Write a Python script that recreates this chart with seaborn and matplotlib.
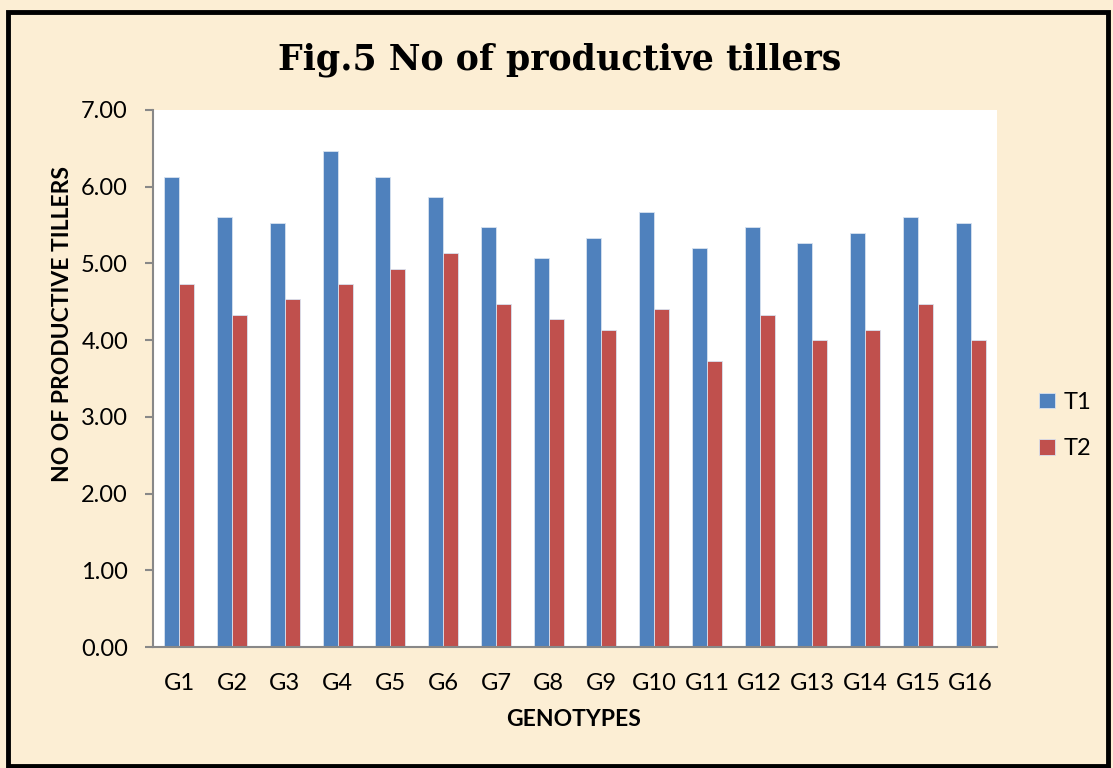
import matplotlib
matplotlib.use("Agg")
import matplotlib.pyplot as plt
import seaborn as sns
import pandas as pd
from matplotlib.patches import Rectangle

genotypes = ["G1", "G2", "G3", "G4", "G5", "G6", "G7", "G8",
             "G9", "G10", "G11", "G12", "G13", "G14", "G15", "G16"]
t1 = [6.13, 5.60, 5.53, 6.47, 6.13, 5.87, 5.47, 5.07,
      5.33, 5.67, 5.20, 5.47, 5.27, 5.40, 5.60, 5.53]
t2 = [4.73, 4.33, 4.53, 4.73, 4.93, 5.13, 4.47, 4.27,
      4.13, 4.40, 3.73, 4.33, 4.00, 4.13, 4.47, 4.00]
series = ["T1", "T2"]
yticks = [0, 1, 2, 3, 4, 5, 6, 7]

df = pd.DataFrame({
    "Genotype": genotypes * 2,
    "Treatment": ["T1"] * len(genotypes) + ["T2"] * len(genotypes),
    "Value": t1 + t2,
})

sns.set_theme(style="white")
plt.rcParams["font.family"] = ["Lato", "DejaVu Sans"]
plt.rcParams["text.color"] = "black"

W, H = 1113, 768
fig = plt.figure(figsize=(W / 100, H / 100), dpi=100)
bg = "#FCEED4"
fig.patch.set_facecolor(bg)

# outer frame
fig.patches.append(Rectangle((8 / W, 2 / H), (1100) / W, (754) / H,
                             transform=fig.transFigure, fill=False,
                             edgecolor="black", linewidth=3.5, zorder=10))

ax = fig.add_axes([153 / W, (H - 647) / H, (997 - 153) / W, (647 - 110) / H])
ax.set_facecolor("white")

palette = {"T1": "#4F81BD", "T2": "#C0504D"}
sns.barplot(data=df, x="Genotype", y="Value", hue="Treatment",
            hue_order=series, order=genotypes, palette=palette,
            width=0.57, gap=0, saturation=1, ax=ax, legend=True,
            edgecolor="#D8E2F0", linewidth=0.6)

ax.set_ylim(0, 7)
ax.set_xlim(-0.5, len(genotypes) - 0.5)
ax.set_yticks(yticks)
ax.set_yticklabels([f"{v:.2f}" for v in yticks], fontsize=17)
ax.tick_params(axis="x", labelsize=17, length=0, pad=19)
ax.tick_params(axis="y", length=6, width=1.5, color="#888888", left=True, pad=12,
               direction="out")
for lab in ax.get_xticklabels() + ax.get_yticklabels():
    lab.set_color("black")

for s in ["top", "right"]:
    ax.spines[s].set_visible(False)
ax.spines["left"].set_color("#888888")
ax.spines["left"].set_linewidth(1.5)
ax.spines["bottom"].set_color("#888888")
ax.spines["bottom"].set_linewidth(1.5)

ax.set_xlabel("GENOTYPES", fontsize=16.5, fontweight="bold", color="black")
ax.set_ylabel("NO OF PRODUCTIVE TILLERS", fontsize=16.5, fontweight="bold", color="black")
ax.xaxis.label.set_va("center")
ax.yaxis.label.set_va("center")
ax.xaxis.set_label_coords((574 - 153) / 844, (647 - 720) / 537)
ax.yaxis.set_label_coords((63 - 153) / 844, (647 - 324) / 537)

leg = ax.legend(loc="center left", bbox_to_anchor=(1.05, (647 - 425.5) / 537),
                frameon=False, fontsize=17, handlelength=0.65, handleheight=0.65,
                labelspacing=1.08, handletextpad=0.4, borderpad=0, borderaxespad=0)
for t in leg.get_texts():
    t.set_color("black")

fig.text(560 / W, (H - 60) / H, "Fig.5 No of productive tillers",
         ha="center", va="center", fontsize=25, fontweight="bold",
         family=["DejaVu Serif"], color="black")

fig.savefig("out.png", dpi=100, facecolor=bg)
